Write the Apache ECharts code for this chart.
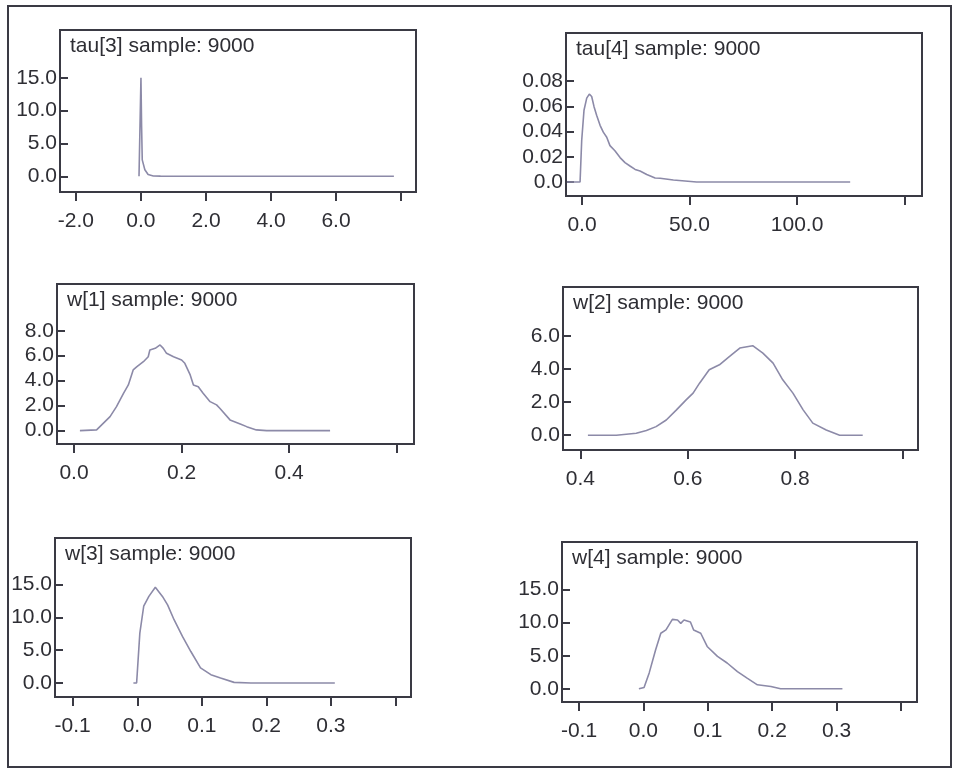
<!DOCTYPE html>
<html>
<head>
<meta charset="utf-8">
<title>density plots</title>
<script src="https://cdn.jsdelivr.net/npm/echarts@6/dist/echarts.min.js"></script>
<style>
  html, body { margin: 0; padding: 0; background: #fff; }
  #chart { width: 958px; height: 770px; }
</style>
</head>
<body>
<div id="chart"></div>
<script>
// panel titles
const titles = ['tau[3] sample: 9000', 'tau[4] sample: 9000', 'w[1] sample: 9000',
  'w[2] sample: 9000', 'w[3] sample: 9000', 'w[4] sample: 9000']

// tau[3]
const tau3X = [-0.06, -0.01, 0.0, 0.02, 0.04, 0.07, 0.12, 0.22, 0.38, 0.6, 1.0, 2.0, 4.0, 6.0, 7.78]
const tau3Y = [0, 0, 15.0, 7.6, 2.5, 2.2, 1.0, 0.26, 0.05, 0.02, 0.01, 0, 0, 0, 0]

// tau[4]
const tau4X = [-7.0, -0.9, -0.14, 0.93, 2.2, 3.4, 4.5, 5.6, 6.8, 8.4, 9.9, 11.5, 13.0, 15.3, 17.7,
  20.0, 22.3, 24.7, 27.0, 30.1, 34.0, 36.3, 42.5, 53.3, 70.0, 100.0, 124.7]
const tau4Y = [0, 0, 0.033, 0.057, 0.0666, 0.0698, 0.0679, 0.0598, 0.053, 0.045, 0.0396, 0.0356,
  0.0289, 0.0248, 0.0194, 0.0154, 0.0127, 0.0100, 0.0087, 0.006, 0.0032, 0.0030, 0.0016, 0, 0, 0, 0]

// w[1]
const w1X = [0.011, 0.042, 0.067, 0.079, 0.092, 0.101, 0.110, 0.117, 0.129, 0.138, 0.141, 0.151,
  0.160, 0.166, 0.172, 0.185, 0.200, 0.206, 0.216, 0.222, 0.231, 0.240, 0.253, 0.265, 0.271,
  0.290, 0.309, 0.321, 0.339, 0.358, 0.476]
const w1Y = [0, 0.06, 1.12, 1.92, 2.99, 3.66, 4.86, 5.12, 5.52, 5.92, 6.46, 6.59, 6.86, 6.59,
  6.19, 5.92, 5.66, 5.39, 4.46, 3.66, 3.52, 2.99, 2.32, 2.06, 1.79, 0.86, 0.54, 0.32, 0.06, 0, 0]

// w[2]
const w2X = [0.414, 0.467, 0.504, 0.523, 0.541, 0.560, 0.579, 0.597, 0.610, 0.622, 0.640, 0.659,
  0.678, 0.697, 0.721, 0.740, 0.759, 0.777, 0.796, 0.815, 0.833, 0.858, 0.883, 0.926]
const w2Y = [0, 0, 0.12, 0.28, 0.52, 0.92, 1.53, 2.13, 2.54, 3.14, 3.95, 4.25, 4.75, 5.26, 5.40,
  4.95, 4.35, 3.34, 2.54, 1.53, 0.73, 0.32, 0, 0]

// w[3]
const w3X = [-0.006, -0.001, 0.0, 0.004, 0.010, 0.018, 0.028, 0.039, 0.047, 0.057, 0.070, 0.083,
  0.098, 0.114, 0.129, 0.150, 0.176, 0.306]
const w3Y = [0, 0, 1.5, 7.6, 11.7, 13.2, 14.6, 13.2, 11.9, 9.65, 7.1, 4.8, 2.3, 1.27, 0.76, 0.1, 0, 0]

// w[4]
const w4X = [-0.007, 0.001, 0.009, 0.019, 0.027, 0.035, 0.045, 0.053, 0.058, 0.063, 0.073, 0.078,
  0.089, 0.099, 0.115, 0.130, 0.146, 0.161, 0.177, 0.198, 0.213, 0.309]
const w4Y = [0, 0.2, 2.4, 5.9, 8.4, 8.9, 10.5, 10.4, 9.9, 10.4, 10.1, 8.9, 8.4, 6.4, 4.9, 3.9,
  2.6, 1.6, 0.6, 0.35, 0, 0]

// axis ticks (last x tick has no label)
const xTicks = [[-2, 0, 2, 4, 6, 8], [0, 50, 100, 150], [0, 0.2, 0.4, 0.6], [0.4, 0.6, 0.8, 1.0],
  [-0.1, 0, 0.1, 0.2, 0.3, 0.4], [-0.1, 0, 0.1, 0.2, 0.3, 0.4]]
const yTicks = [[0, 5, 10, 15], [0, 0.02, 0.04, 0.06, 0.08], [0, 2, 4, 6, 8], [0, 2, 4, 6],
  [0, 5, 10, 15], [0, 5, 10, 15]]

const xs = [tau3X, tau4X, w1X, w2X, w3X, w4X]
const ys = [tau3Y, tau4Y, w1Y, w2Y, w3Y, w4Y]

// 画框位置 (像素) 与坐标范围
const boxes = [
  { left: 60, top: 30, width: 356, height: 162, x: [-2.49, 8.46], y: [-2.4, 22.3] },
  { left: 566, top: 33, width: 356, height: 163, x: [-7.44, 158.1], y: [-0.0111, 0.1183] },
  { left: 57, top: 284, width: 357, height: 160, x: [-0.0316, 0.632], y: [-1.07, 11.74] },
  { left: 563, top: 287, width: 355, height: 163, x: [0.3676, 1.029], y: [-0.89, 8.94] },
  { left: 55, top: 538, width: 356, height: 159, x: [-0.1274, 0.424], y: [-2.13, 22.1] },
  { left: 562, top: 542, width: 355, height: 160, x: [-0.1264, 0.4248], y: [-2.0, 22.2] }
]

const font = "'Liberation Sans', Arial, sans-serif"
const textColor = '#2e2e34'
const frameColor = '#3a3a44'

const chart = echarts.init(document.getElementById('chart'))

const grid = []
const xAxis = []
const yAxis = []
const series = []
const title = []

boxes.forEach((b, i) => {
  grid.push({
    left: b.left, top: b.top, width: b.width, height: b.height,
    show: true, borderWidth: 2, borderColor: frameColor, backgroundColor: 'transparent'
  })
  title.push({
    text: titles[i],
    left: b.left + 5,
    top: b.top + 1,
    textStyle: { fontSize: 21, fontWeight: 'normal', color: textColor, fontFamily: font }
  })
  xAxis.push({
    type: 'value', gridIndex: i, min: b.x[0], max: b.x[1], position: 'bottom',
    axisLine: { show: false, onZero: false },
    splitLine: { show: false },
    axisTick: {
      show: true, length: 9, inside: false,
      customValues: xTicks[i],
      lineStyle: { color: frameColor, width: 2 }
    },
    axisLabel: {
      customValues: xTicks[i].slice(0, -1),
      margin: 19, fontSize: 21, color: textColor, fontFamily: font,
      formatter: (v) => v.toFixed(1)
    }
  })
  yAxis.push({
    type: 'value', gridIndex: i, min: b.y[0], max: b.y[1], position: 'left',
    axisLine: { show: false, onZero: false },
    splitLine: { show: false },
    axisTick: {
      show: true, length: 8, inside: true,
      customValues: yTicks[i],
      lineStyle: { color: frameColor, width: 2 }
    },
    axisLabel: {
      customValues: yTicks[i],
      margin: 3, fontSize: 21, color: textColor, fontFamily: font,
      formatter: (v) => (i === 1 ? (v === 0 ? '0.0' : v.toFixed(2)) : v.toFixed(1))
    }
  })
  series.push({
    type: 'line', xAxisIndex: i, yAxisIndex: i,
    data: xs[i].map((x, k) => [x, ys[i][k]]),
    showSymbol: false,
    lineStyle: { color: '#8c8aa8', width: 1.6 },
    silent: true
  })
})

chart.setOption({
  animation: false,
  backgroundColor: '#ffffff',
  title,
  grid,
  xAxis,
  yAxis,
  series,
  graphic: [{
    type: 'rect',
    shape: { x: 8, y: 6, width: 943, height: 761 },
    style: { fill: 'none', stroke: frameColor, lineWidth: 2 },
    silent: true
  }]
})
</script>
</body>
</html>
